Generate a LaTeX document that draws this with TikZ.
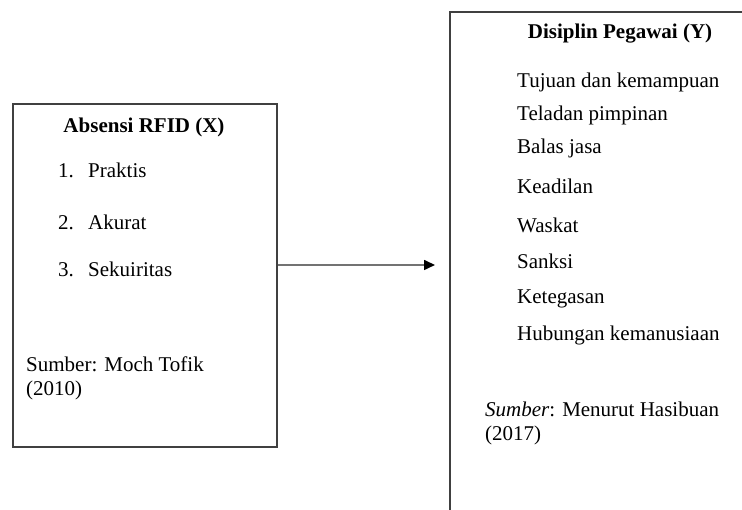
\documentclass[tikz,border=0pt]{standalone}
\usepackage{fontspec}
\setmainfont{Liberation Serif}
\usetikzlibrary{arrows.meta}
\begin{document}
\begin{tikzpicture}[x=1pt,y=1pt,
  boxline/.style={draw=black!75,line width=1.7pt},
  txt/.style={inner sep=0pt,anchor=base west,font=\fontsize{21}{24}\selectfont},
  hdr/.style={inner sep=0pt,anchor=base,font=\fontsize{21}{24}\selectfont\bfseries},
  link/.style={draw=black!55,line width=1.6pt,-{Triangle[length=11pt,width=10pt,color=black]}}]
\useasboundingbox (0,0) rectangle (742,510);
\clip (0,0) rectangle (742,510);
% boxes
\node[boxline,inner sep=0pt,minimum width=264pt,minimum height=343pt,anchor=south west] (lbox) at (12,62) {};
\node[boxline,inner sep=0pt,minimum width=342pt,minimum height=530pt,anchor=north west] (rbox) at (449,499) {};
% left texts
\node[hdr] (lhead) at (144,377) {Absensi RFID (X)};
\node[txt] (n1) at (58,332) {1.};
\node[txt] (i1) at (88,332) {Praktis};
\node[txt] (n2) at (58,280) {2.};
\node[txt] (i2) at (88,280) {Akurat};
\node[txt] (n3) at (58,233) {3.};
\node[txt] (i3) at (88,233) {Sekuiritas};
\node[txt] (ls1) at (26,138) {Sumber: Moch Tofik};
\node[txt] (ls2) at (26,114) {(2010)};
% right texts
\node[hdr] (rhead) at (620,471) {Disiplin Pegawai (Y)};
\node[txt] (r1) at (517,422) {Tujuan dan kemampuan};
\node[txt] (r2) at (517,389) {Teladan pimpinan};
\node[txt] (r3) at (517,356) {Balas jasa};
\node[txt] (r4) at (517,316) {Keadilan};
\node[txt] (r5) at (517,277) {Waskat};
\node[txt] (r6) at (517,241) {Sanksi};
\node[txt] (r7) at (517,206) {Ketegasan};
\node[txt] (r8) at (517,169) {Hubungan kemanusiaan};
\node[txt] (rs1) at (485,93) {\textit{Sumber}: Menurut Hasibuan};
\node[txt] (rs2) at (485,69) {(2017)};
% arrow
\coordinate (astart) at (lbox.east |- 0,245);
\coordinate (aend) at (435,245);
\draw[link] (astart) -- (aend);
\end{tikzpicture}
\end{document}
